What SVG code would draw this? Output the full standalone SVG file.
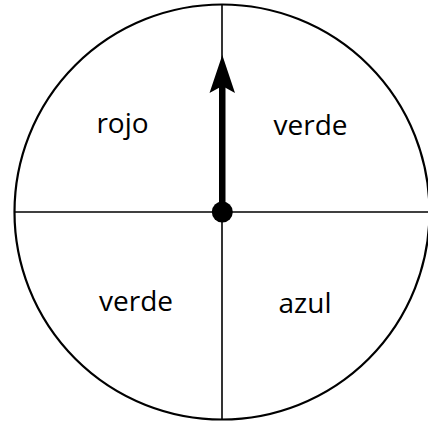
<svg xmlns="http://www.w3.org/2000/svg" width="428" height="427" viewBox="0 0 428 427">
<style>
.rim{fill:none;stroke:#000;stroke-width:2.2}
.div{stroke:#000;stroke-width:1.6;fill:none}
.lbl{font-family:"Open Sans","Noto Sans",sans-serif;font-size:28px;font-weight:500;fill:#000;text-anchor:middle}
</style>
<rect width="428" height="427" fill="#fff"/>
<g id="spinner">
<circle class="rim" cx="222" cy="212" r="207.5"/>
</g>
<g id="connectors">
<line class="div" x1="222" y1="4" x2="222" y2="420"/>
<line class="div" x1="15" y1="212" x2="428" y2="212"/>
</g>
<g id="rojo"><text class="lbl" x="122.5" y="133">rojo</text></g>
<g id="verde1"><text class="lbl" x="310.5" y="135">verde</text></g>
<g id="verde2"><text class="lbl" x="136" y="311">verde</text></g>
<g id="azul"><text class="lbl" x="305" y="313">azul</text></g>
<g id="pointer">
<rect x="219" y="84" width="6.5" height="128" fill="#000"/>
<polygon points="222.3,55 235,93 222.3,86 209.5,93" fill="#000"/>
<circle cx="222.3" cy="212" r="10.5" fill="#000"/>
</g>
</svg>
